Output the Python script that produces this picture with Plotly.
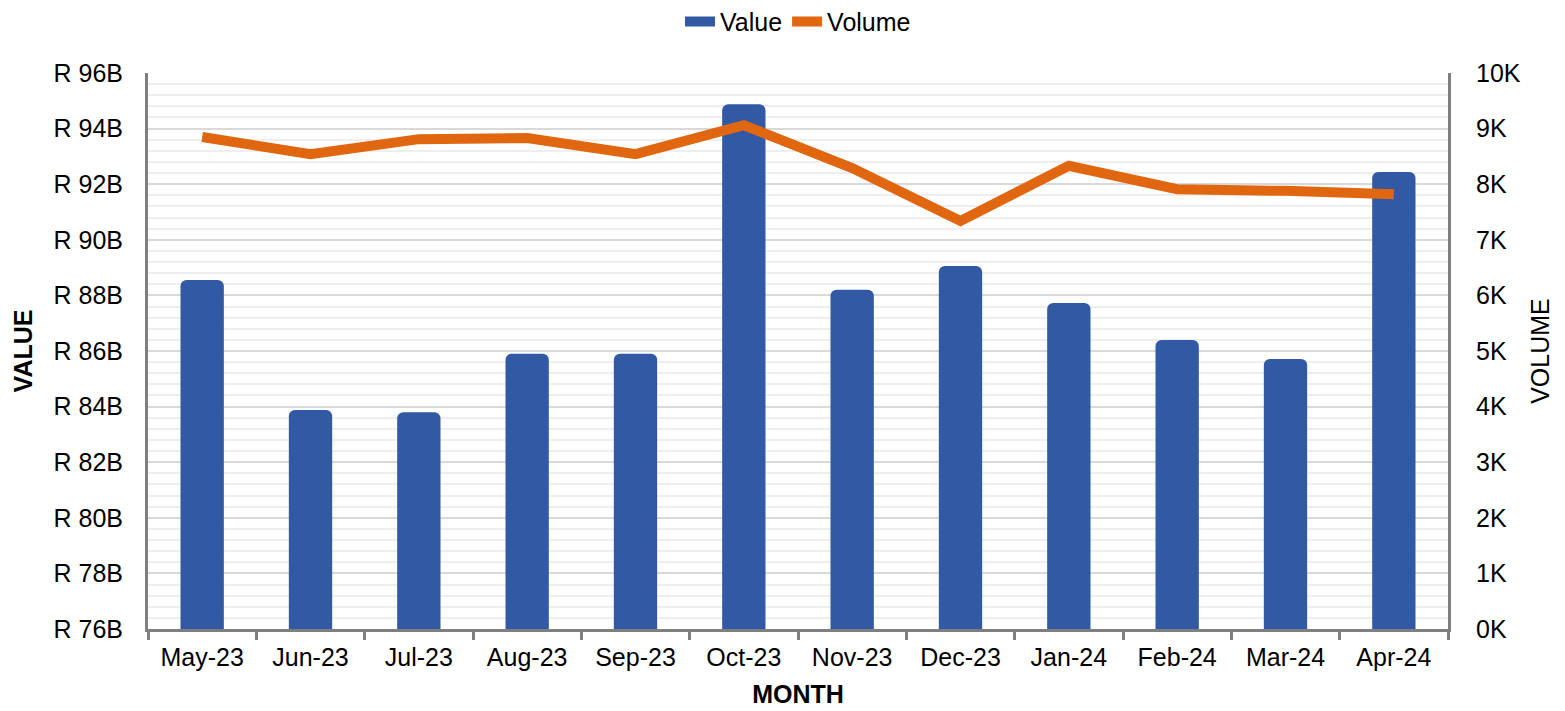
import plotly.graph_objects as go

months = ["May-23", "Jun-23", "Jul-23", "Aug-23", "Sep-23", "Oct-23",
          "Nov-23", "Dec-23", "Jan-24", "Feb-24", "Mar-24", "Apr-24"]
value_bn = [88.55, 83.88, 83.8, 85.9, 85.9, 94.88, 88.2, 89.06, 87.73, 86.4, 85.71, 92.44]
volume = [8850, 8540, 8810, 8830, 8540, 9060, 8290, 7340, 8330, 7910, 7880, 7820]

value_ticks = [76, 78, 80, 82, 84, 86, 88, 90, 92, 94, 96]
value_ticktext = ["R %dB" % v for v in value_ticks]
volume_ticks = [0, 1000, 2000, 3000, 4000, 5000, 6000, 7000, 8000, 9000, 10000]
volume_ticktext = ["%dK" % (v // 1000) for v in volume_ticks]

fnt = "Liberation Sans, Arial, sans-serif"
axis_grey = "#7f7f7f"
bar_blue = "#3259a3"
line_orange = "#e0670f"

fig = go.Figure()
fig.add_trace(go.Bar(
    x=months, y=[v * 1e9 for v in value_bn], name="Value", showlegend=False,
    marker=dict(color=bar_blue, cornerradius=6, line=dict(width=0)),
    width=0.4,
))
fig.add_trace(go.Scatter(
    x=months, y=volume, name="Volume", yaxis="y2", mode="lines", showlegend=False,
    line=dict(color=line_orange, width=10),
))
# legend entries
fig.add_trace(go.Scatter(x=[None], y=[None], name="Value", mode="lines",
                         line=dict(color=bar_blue, width=24)))
fig.add_trace(go.Scatter(x=[None], y=[None], name="Volume", mode="lines", yaxis="y2",
                         line=dict(color=line_orange, width=10)))

# page body has an 8px margin, so the figure is shifted by 8px
fig.update_layout(
    width=1565, height=711,
    margin=dict(l=140, r=125, t=65, b=90, autoexpand=False),
    plot_bgcolor="white", paper_bgcolor="white",
    font=dict(family=fnt, size=25, color="#000000"),
    showlegend=True,
    legend=dict(orientation="h", x=0.5, xanchor="center", y=1.092, yanchor="middle",
                font=dict(size=25), traceorder="normal", itemwidth=30,
                tracegroupgap=0, itemclick=False),
    xaxis=dict(
        showline=True, linecolor=axis_grey, linewidth=3,
        ticks="outside", tickson="boundaries", ticklen=8, tickwidth=3, tickcolor=axis_grey,
        showgrid=False, automargin=False, ticklabelstandoff=4,
        title=dict(text="<b>MONTH</b>", font=dict(size=25), standoff=16),
        tickfont=dict(size=25),
    ),
    yaxis=dict(
        range=[76e9, 96e9], automargin=False,
        tickvals=[v * 1e9 for v in value_ticks], ticktext=value_ticktext,
        showline=True, linecolor=axis_grey, linewidth=3,
        showgrid=True, gridcolor="#d9d9d9", gridwidth=1.5,
        minor=dict(dtick=0.4e9, showgrid=True, gridcolor="#eeeeee", gridwidth=1.5),
        zeroline=False, ticks="", ticklabelstandoff=17,
        title=dict(text="<b>VALUE</b>", font=dict(size=25), standoff=14),
    ),
    yaxis2=dict(
        range=[0, 10000], overlaying="y", side="right", automargin=False,
        tickvals=volume_ticks, ticktext=volume_ticktext,
        showline=True, linecolor=axis_grey, linewidth=3,
        showgrid=False, zeroline=False, ticks="", ticklabelstandoff=20,
        title=dict(text="VOLUME", font=dict(size=25), standoff=12),
    ),
)

fig.write_html("out.html")
